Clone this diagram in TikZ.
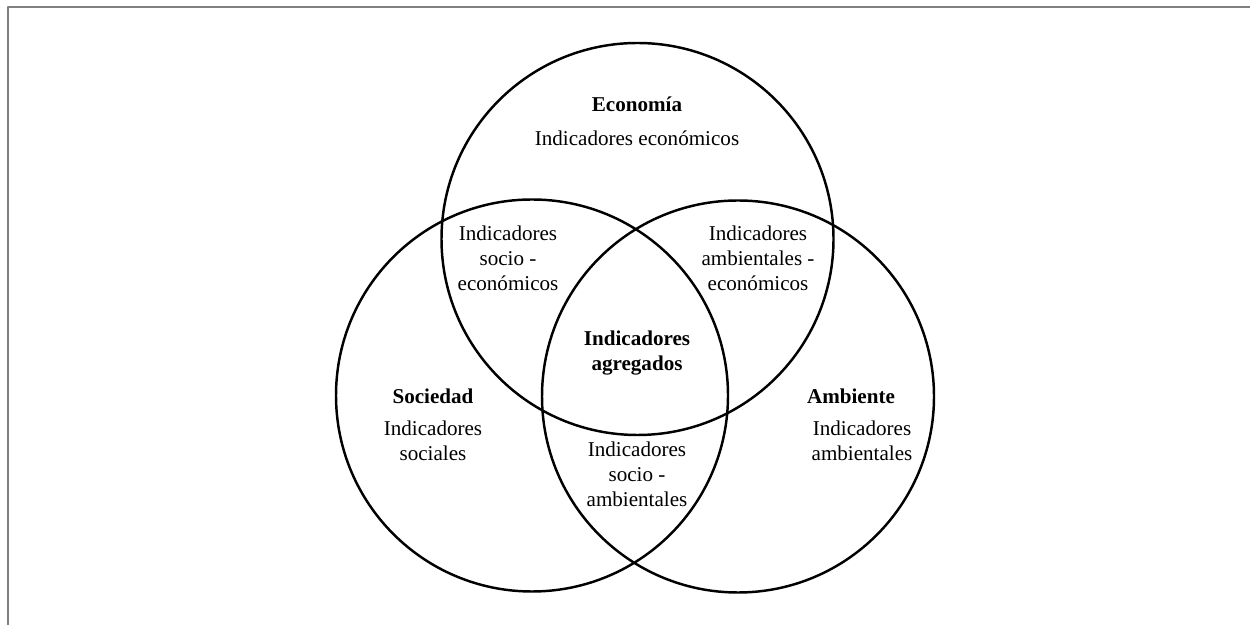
\documentclass[tikz,border=0pt]{standalone}
\usepackage{fontspec}
\setmainfont{Liberation Serif}
\begin{document}
\begin{tikzpicture}[font=\fontsize{12}{14.2}\selectfont, line join=round, line cap=round,
	venn/.style={circle, draw, line width=1.4pt, minimum size=7.84cm, inner sep=0pt},
	txt/.style={align=center, inner sep=0pt}]
				\useasboundingbox (0,0) rectangle (25,12.5);
				\path
				(12.75,7.72) coordinate (E)
				(10.64,4.59) coordinate (S)
				(14.76,4.57) coordinate (A)
				;
				\draw[gray, line width=1.1pt, line cap=butt] (0.16,0)--(0.16,12.36)--(25,12.36);
				\foreach \d in {E,S,A}{
					\node[venn] (c\d) at (\d) {};}
				\node[txt, font=\fontsize{12}{14.2}\selectfont\bfseries] (eco) at (12.74,10.42) {Economía};
				\node[txt] (ecoind) at (12.74,9.74) {Indicadores económicos};
				\node[txt, font=\fontsize{12}{14.2}\selectfont\bfseries] (soc) at (8.66,4.58) {Sociedad};
				\node[txt] (socind) at (8.66,3.68) {Indicadores\\sociales};
				\node[txt, font=\fontsize{12}{14.2}\selectfont\bfseries] (amb) at (17.02,4.58) {Ambiente};
				\node[txt] (ambind) at (17.24,3.68) {Indicadores\\ambientales};
				\node[txt] (soceco) at (10.16,7.34) {Indicadores\\socio -\\económicos};
				\node[txt] (ambeco) at (15.16,7.34) {Indicadores\\ambientales -\\económicos};
				\node[txt] (socamb) at (12.74,3.02) {Indicadores\\socio -\\ambientales};
				\node[txt, font=\fontsize{12}{14.2}\selectfont\bfseries] (agr) at (12.74,5.44) {Indicadores\\agregados};
		\end{tikzpicture}
\end{document}
